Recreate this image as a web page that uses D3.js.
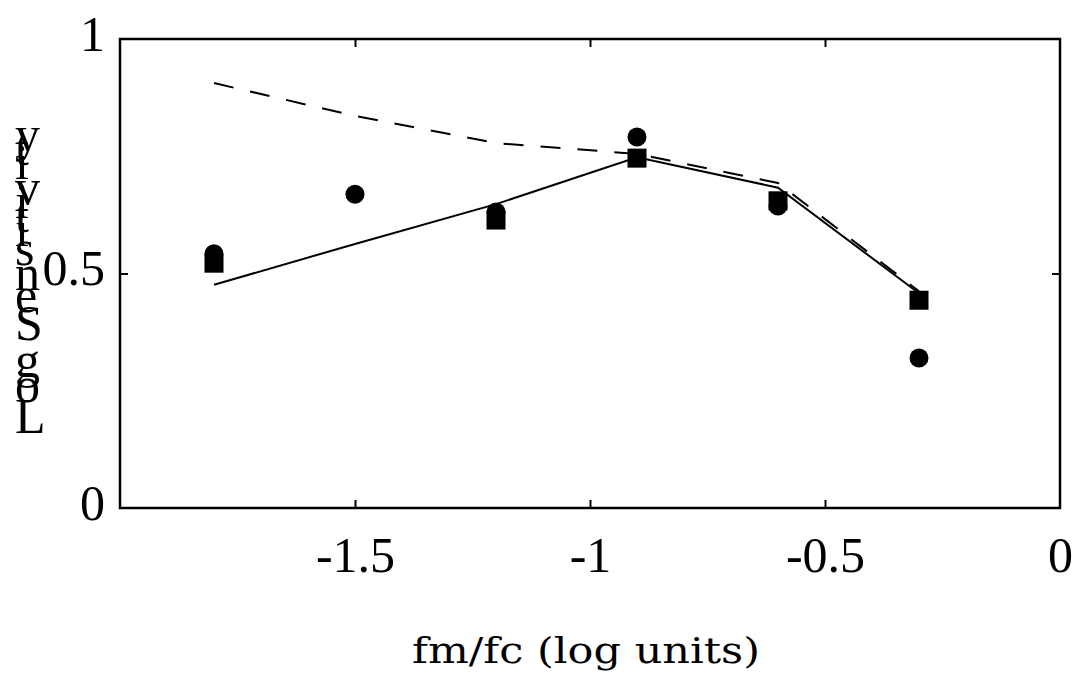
<!DOCTYPE html>
<html>
<head>
<meta charset="utf-8">
<script src="https://cdn.jsdelivr.net/npm/d3@7"></script>
<style>
  html, body { margin: 0; padding: 0; background: #fff; }
  svg { display: block; }
</style>
</head>
<body>
<svg id="chart" width="1076" height="684"></svg>
<script>
// ---- data ----
const xValues = [-1.8, -1.5, -1.2, -0.9, -0.6, -0.3];
const circleValues = [0.542, 0.669, 0.631, 0.791, 0.644, 0.32];
const squareValues = [0.522, null, 0.614, 0.746, 0.655, 0.443];
const solidLineValues = [0.476, 0.563, 0.648, 0.748, 0.683, 0.458];
const dashedLineValues = [0.906, 0.836, 0.778, 0.755, 0.693, 0.462];
const xTicks = [-1.5, -1, -0.5, 0];
const xTickLabels = ["-1.5", "-1", "-0.5", "0"];
const yTicks = [0, 0.5, 1];
const yTickLabels = ["0", "0.5", "1"];
const xTitle = "fm/fc (log units)";
const yTitle = "Log Sensitivity";

(function () {
// ---- layout ----
const svg = d3.select("#chart");
const pL = 120, pR = 1060, pT = 39, pB = 508;
const x = d3.scaleLinear().domain([-2, 0]).range([pL, pR]);
const y = d3.scaleLinear().domain([0, 1]).range([pB, pT]);
const serif = "'Liberation Serif', 'Times New Roman', serif";

// frame
svg.append("rect")
  .attr("x", pL).attr("y", pT)
  .attr("width", pR - pL).attr("height", pB - pT)
  .attr("fill", "none").attr("stroke", "#000").attr("stroke-width", 2.5);

// bottom axis (ticks inward)
const xAxisB = svg.append("g").attr("transform", `translate(0,${pB})`)
  .call(d3.axisBottom(x).tickValues(xTicks).tickSize(-8).tickPadding(0)
    .tickFormat((d, i) => xTickLabels[i]));
xAxisB.select(".domain").remove();
xAxisB.selectAll(".tick line").attr("stroke", "#000").attr("stroke-width", 2)
  .filter(d => d === 0).remove();
xAxisB.selectAll(".tick text")
  .attr("font-family", serif).attr("font-size", 50).attr("fill", "#000")
  .attr("y", 64).attr("dy", null);

// top axis mirrored ticks
const xAxisT = svg.append("g").attr("transform", `translate(0,${pT})`)
  .call(d3.axisTop(x).tickValues(xTicks.filter(d => d !== 0)).tickSize(-8).tickFormat(""));
xAxisT.select(".domain").remove();
xAxisT.selectAll(".tick line").attr("stroke", "#000").attr("stroke-width", 2);

// left axis
const yAxisL = svg.append("g").attr("transform", `translate(${pL},0)`)
  .call(d3.axisLeft(y).tickValues(yTicks).tickSize(-8).tickPadding(0)
    .tickFormat((d, i) => yTickLabels[i]));
yAxisL.select(".domain").remove();
yAxisL.selectAll(".tick line").attr("stroke", "#000").attr("stroke-width", 2)
  .filter(d => d === 0 || d === 1).remove();
yAxisL.selectAll(".tick text")
  .attr("font-family", serif).attr("font-size", 50).attr("fill", "#000")
  .attr("x", -15).attr("dy", "0.22em").attr("text-anchor", "end");

// right axis mirrored ticks
const yAxisR = svg.append("g").attr("transform", `translate(${pR},0)`)
  .call(d3.axisRight(y).tickValues([0.5]).tickSize(-8).tickFormat(""));
yAxisR.select(".domain").remove();
yAxisR.selectAll(".tick line").attr("stroke", "#000").attr("stroke-width", 2);

// lines
const lineGen = d3.line()
  .defined(d => d[1] !== null)
  .x(d => x(d[0])).y(d => y(d[1]));

svg.append("path")
  .datum(xValues.map((v, i) => [v, dashedLineValues[i]]))
  .attr("d", lineGen)
  .attr("fill", "none").attr("stroke", "#000").attr("stroke-width", 2)
  .attr("stroke-dasharray", "20,17");

svg.append("path")
  .datum(xValues.map((v, i) => [v, solidLineValues[i]]))
  .attr("d", lineGen)
  .attr("fill", "none").attr("stroke", "#000").attr("stroke-width", 2);

// circles
svg.append("g").selectAll("circle")
  .data(xValues.map((v, i) => [v, circleValues[i]]).filter(d => d[1] !== null))
  .join("circle")
  .attr("cx", d => x(d[0])).attr("cy", d => y(d[1]))
  .attr("r", 9.5).attr("fill", "#000");

// squares
const sq = 19;
svg.append("g").selectAll("rect")
  .data(xValues.map((v, i) => [v, squareValues[i]]).filter(d => d[1] !== null))
  .join("rect")
  .attr("x", d => x(d[0]) - sq / 2).attr("y", d => y(d[1]) - sq / 2)
  .attr("width", sq).attr("height", sq).attr("fill", "#000");

// x title
svg.append("text")
  .attr("x", (pL + pR) / 2 - 4).attr("y", 663)
  .attr("text-anchor", "middle")
  .attr("font-family", "'DejaVu Serif', serif").attr("font-size", 35)
  .attr("textLength", 348).attr("lengthAdjust", "spacingAndGlyphs")
  .attr("fill", "#000")
  .text(xTitle);

// y title: upright glyphs stacked bottom-to-top along the rotated baseline
const yt = svg.append("g");
const chars = Array.from(yTitle);
const probe = svg.append("text").attr("font-family", serif).attr("font-size", 50);
const adv = chars.map(c => {
  probe.text(c === " " ? "\u00a0" : c);
  return probe.node().getComputedTextLength();
});
probe.remove();
const total = d3.sum(adv);
let base = (pT + pB) / 2 + total / 2 + 6;
chars.forEach((c, i) => {
  if (c !== " ") {
    yt.append("text")
      .attr("x", 15).attr("y", base)
      .attr("font-family", serif).attr("font-size", 50).attr("fill", "#000")
      .text(c);
  }
  base -= adv[i];
});
})();
</script>
</body>
</html>
